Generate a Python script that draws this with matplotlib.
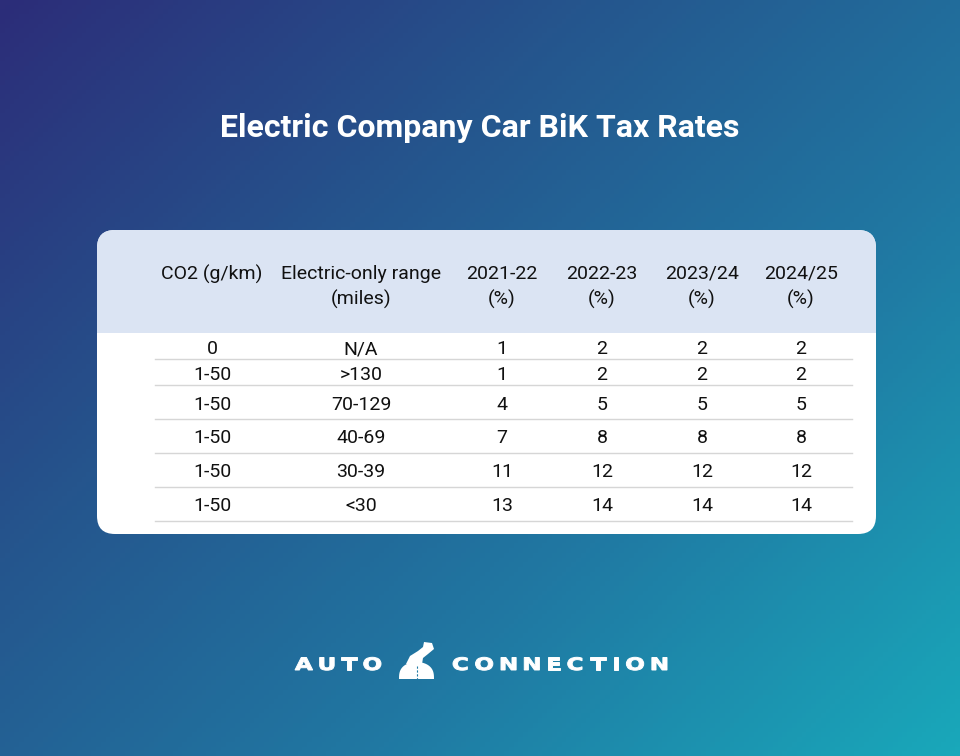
import numpy as np
import matplotlib.pyplot as plt
from matplotlib.colors import LinearSegmentedColormap
from matplotlib.patches import FancyBboxPatch, Rectangle, Polygon, PathPatch
from matplotlib.textpath import TextPath
from matplotlib.font_manager import FontProperties
from matplotlib.transforms import Affine2D

# datos de la tabla
title = "Electric Company Car BiK Tax Rates"
headers = ["CO2 (g/km)", "Electric-only range\n(miles)", "2021-22\n(%)", "2022-23\n(%)", "2023/24\n(%)", "2024/25\n(%)"]
co2 = ["0", "1-50", "1-50", "1-50", "1-50", "1-50"]
rango = ["N/A", ">130", "70-129", "40-69", "30-39", "<30"]
tasa_2122 = [1, 1, 4, 7, 11, 13]
tasa_2223 = [2, 2, 5, 8, 12, 14]
tasa_2324 = [2, 2, 5, 8, 12, 14]
tasa_2425 = [2, 2, 5, 8, 12, 14]

W, H = 960, 756
fig = plt.figure(figsize=(9.6, 7.56), dpi=100)
ax = fig.add_axes([0, 0, 1, 1])
ax.set_xlim(0, W)
ax.set_ylim(H, 0)
ax.axis("off")

# fondo con degradado diagonal
cmap = LinearSegmentedColormap.from_list("bg", ["#2c2d79", "#25558d", "#2079a3", "#19a8ba"])
xx, yy = np.meshgrid(np.linspace(0, 1, 200), np.linspace(0, 1, 160))
t = 0.55 * xx + 0.45 * yy
ax.imshow(t, cmap=cmap, extent=[0, W, H, 0], aspect="auto", zorder=0)

ax.text(W / 2, 128, title, color="white", fontsize=23, fontweight="bold",
        family="Roboto", ha="center", va="center")

# tarjeta
x0, y0, x1, y1 = 97, 230, 876, 534
card = FancyBboxPatch((x0 + 18, y0 + 18), x1 - x0 - 36, y1 - y0 - 36,
                      boxstyle="round,pad=18", fc="white", ec="none", zorder=1)
ax.add_patch(card)
header_bg = Rectangle((x0, y0), x1 - x0, 103, fc="#dbe4f3", ec="none", zorder=2)
ax.add_patch(header_bg)
header_bg.set_clip_path(card)

col_x = [212, 361, 502, 602, 702, 801]
fuente = dict(family="Roboto", fontsize=14, color="#111111", ha="center")
for cx, h in zip(col_x, headers):
    for k, linea in enumerate(h.split("\n")):
        ax.text(cx, 272 + 25 * k, linea, va="center_baseline", zorder=3, **fuente)

row_y = [347, 373, 403, 436, 470, 504]
line_y = [359, 385, 419, 453, 487, 521]
filas = list(zip(co2, rango, tasa_2122, tasa_2223, tasa_2324, tasa_2425))
for ry, ly, fila in zip(row_y, line_y, filas):
    for cx, v in zip(col_x, fila):
        ax.text(cx, ry, str(v), va="center_baseline", zorder=3, **fuente)
    ax.plot([155, 852], [ly, ly], color="#d6d6d6", lw=1, zorder=3)

# logo: letras anchas y espaciadas
fp = FontProperties(family="DejaVu Sans", weight="bold")
alto_cap = 12.5
for palabra, xa, xb in [("AUTO", 295, 381), ("CONNECTION", 453, 667)]:
    paths = []
    for ch in palabra:
        tp = TextPath((0, 0), ch, size=10, prop=fp)
        bb = tp.get_extents()
        s = alto_cap / 7.29
        paths.append((tp, bb, s))
    anchos = [bb.width * s * 1.35 for tp, bb, s in paths]
    hueco = (xb - xa - sum(anchos)) / (len(palabra) - 1)
    x = xa
    for (tp, bb, s), w in zip(paths, anchos):
        tr = (Affine2D().translate(-bb.x0, 0).scale(s * 1.35, -s)
              .translate(x, 670))
        ax.add_patch(PathPatch(tr.transform_path(tp), fc="white", ec="white",
                               lw=0.7, zorder=3))
        x += w + hueco

# icono: cupula con carretera
ang = np.linspace(0, np.pi, 40)
cupula = np.column_stack([416.5 - 17.5 * np.cos(ang), 679 - 17 * np.sin(ang) ** 0.7])
ax.add_patch(Polygon(cupula, closed=True, fc="white", ec="none", zorder=3))
carretera = Polygon([[406, 664], [410, 656], [418, 651], [423, 647], [424, 642],
                     [432, 643], [434, 649], [428, 654], [423, 658], [422, 664]],
                    closed=True, fc="white", ec="none", zorder=3)
ax.add_patch(carretera)
ax.plot([416.5, 416.5], [666, 679], color="#207ba4", lw=0.8, ls=(0, (2, 1.5)), zorder=4)

fig.savefig("out.png", dpi=100)
